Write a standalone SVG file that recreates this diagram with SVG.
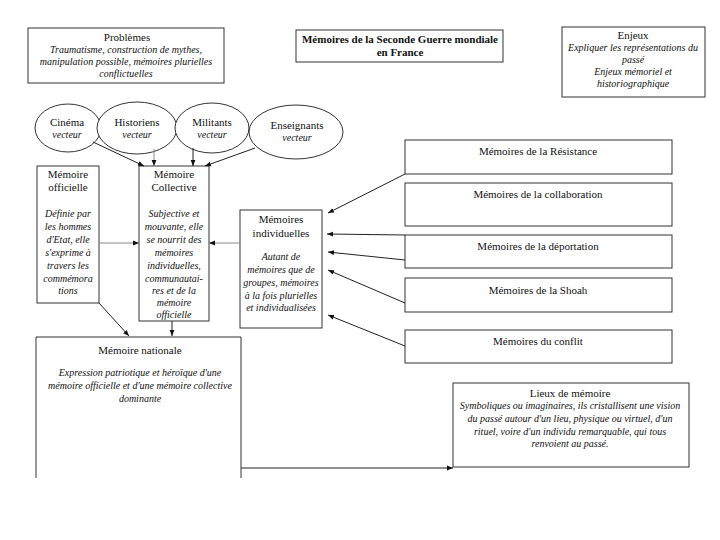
<svg xmlns="http://www.w3.org/2000/svg" width="720" height="540" viewBox="0 0 720 540" font-family="'Liberation Serif', 'Times New Roman', 'DejaVu Serif', serif">
<defs>
<marker id="ah" viewBox="0 0 10 10" refX="10" refY="5" markerWidth="6" markerHeight="6" orient="auto" markerUnits="userSpaceOnUse">
<path d="M0,1 L10,5 L0,9 z" fill="#111"/>
</marker>
<style>
text{font-family:'Liberation Serif','Times New Roman','DejaVu Serif',serif}
.box{fill:#fff;stroke:#333;stroke-width:1}
.t{font-size:11px;fill:#111;text-anchor:middle}
.i{font-size:10px;font-style:italic;fill:#111;text-anchor:middle}
.b{font-weight:bold}
.c{stroke:#222;stroke-width:1;fill:none;marker-end:url(#ah)}
.g{stroke:#888}
</style>
</defs>
<rect width="720" height="540" fill="#fff"/>

<g id="problemes">
<rect class="box" x="28" y="28" width="196" height="55"/>
<text class="t" x="127" y="41">Problèmes</text>
<text class="i" x="126" y="53">Traumatisme, construction de mythes,</text>
<text class="i" x="126" y="65">manipulation possible, mémoires plurielles</text>
<text class="i" x="126" y="77">conflictuelles</text>
</g>

<g id="titre">
<rect class="box" x="296" y="30" width="207" height="32"/>
<text class="t b" x="400" y="43">Mémoires de la Seconde Guerre mondiale</text>
<text class="t b" x="400" y="56">en France</text>
</g>

<g id="enjeux">
<rect class="box" x="562" y="27" width="143" height="70"/>
<text class="t" x="633" y="39">Enjeux</text>
<text class="i" x="633" y="51">Expliquer les représentations du</text>
<text class="i" x="633" y="63">passé</text>
<text class="i" x="633" y="75">Enjeux  mémoriel et</text>
<text class="i" x="633" y="87">historiographique</text>
</g>

<g id="cinema">
<ellipse class="box" cx="68" cy="128" rx="33" ry="24"/>
<text class="t" x="67" y="126">Cinéma</text>
<text class="i" x="67" y="138">vecteur</text>
</g>
<g id="historiens">
<ellipse class="box" cx="137" cy="128" rx="40" ry="26"/>
<text class="t" x="137" y="126">Historiens</text>
<text class="i" x="137" y="138">vecteur</text>
</g>
<g id="militants">
<ellipse class="box" cx="212" cy="128" rx="37" ry="25"/>
<text class="t" x="212" y="126">Militants</text>
<text class="i" x="212" y="138">vecteur</text>
</g>
<g id="enseignants">
<ellipse class="box" cx="296" cy="132" rx="47" ry="27"/>
<text class="t" x="297" y="129">Enseignants</text>
<text class="i" x="297" y="141">vecteur</text>
</g>

<g id="memoire-officielle">
<rect class="box" x="37" y="166" width="62" height="137"/>
<text class="t" x="68" y="178">Mémoire</text>
<text class="t" x="68" y="191">officielle</text>
<text class="i" x="68" y="217">Définie par</text>
<text class="i" x="68" y="230">les hommes</text>
<text class="i" x="68" y="243">d'Etat, elle</text>
<text class="i" x="68" y="256">s'exprime à</text>
<text class="i" x="68" y="269">travers les</text>
<text class="i" x="68" y="282">commémora</text>
<text class="i" x="68" y="294">tions</text>
</g>

<g id="memoire-collective">
<rect class="box" x="139" y="166" width="70" height="155"/>
<text class="t" x="174" y="178">Mémoire</text>
<text class="t" x="174" y="191">Collective</text>
<text class="i" x="174" y="217">Subjective et</text>
<text class="i" x="174" y="230">mouvante, elle</text>
<text class="i" x="174" y="243">se nourrit des</text>
<text class="i" x="174" y="256">mémoires</text>
<text class="i" x="174" y="269">individuelles,</text>
<text class="i" x="174" y="282">communautai-</text>
<text class="i" x="174" y="294">res et  de la</text>
<text class="i" x="174" y="306">mémoire</text>
<text class="i" x="174" y="318">officielle</text>
</g>

<g id="memoires-individuelles">
<rect class="box" x="240" y="210" width="82" height="118"/>
<text class="t" x="281" y="223">Mémoires</text>
<text class="t" x="281" y="237">individuelles</text>
<text class="i" x="281" y="260">Autant de</text>
<text class="i" x="281" y="273">mémoires que de</text>
<text class="i" x="281" y="286">groupes, mémoires</text>
<text class="i" x="281" y="299">à la fois plurielles</text>
<text class="i" x="281" y="311">et individualisées</text>
</g>

<g id="resistance">
<rect class="box" x="405" y="140" width="267" height="34"/>
<text class="t" x="538" y="155">Mémoires de la Résistance</text>
</g>
<g id="collaboration">
<rect class="box" x="405" y="183" width="267" height="43"/>
<text class="t" x="538" y="198">Mémoires de la collaboration</text>
</g>
<g id="deportation">
<rect class="box" x="405" y="235" width="267" height="33"/>
<text class="t" x="538" y="250">Mémoires de la déportation</text>
</g>
<g id="shoah">
<rect class="box" x="405" y="278" width="267" height="34"/>
<text class="t" x="538" y="294">Mémoires de la Shoah</text>
</g>
<g id="conflit">
<rect class="box" x="405" y="330" width="267" height="33"/>
<text class="t" x="538" y="345">Mémoires du conflit</text>
</g>

<g id="memoire-nationale">
<path d="M36,478 V337 H241 V478" fill="#fff" stroke="#333" stroke-width="1"/>
<text class="t" x="140" y="354">Mémoire nationale</text>
<text class="i" x="140" y="376">Expression patriotique et héroïque d'une</text>
<text class="i" x="140" y="389">mémoire officielle et d'une mémoire collective</text>
<text class="i" x="140" y="402">dominante</text>
</g>

<g id="lieux-de-memoire">
<rect class="box" x="453" y="383" width="236" height="84"/>
<text class="t" x="570" y="397">Lieux de mémoire</text>
<text class="i" x="570" y="409">Symboliques ou imaginaires, ils cristallisent une vision</text>
<text class="i" x="570" y="422">du passé autour d'un lieu, physique ou virtuel, d'un</text>
<text class="i" x="570" y="435">rituel, voire d'un individu remarquable, qui tous</text>
<text class="i" x="570" y="447">renvoient au passé.</text>
</g>

<g id="connectors">
<line class="c" x1="93" y1="142" x2="144" y2="166"/>
<line class="c g" x1="154" y1="149" x2="154" y2="166"/>
<line class="c" x1="193" y1="148" x2="193" y2="166"/>
<line class="c" x1="255" y1="148" x2="205" y2="166"/>
<line class="c g" x1="99" y1="243" x2="139" y2="243"/>
<line class="c g" x1="240" y1="243" x2="209" y2="243"/>
<line class="c" x1="405" y1="174" x2="328" y2="213"/>
<line class="c" x1="405" y1="235" x2="327" y2="234" stroke-width="1.4"/>
<line class="c" x1="405" y1="260" x2="328" y2="252"/>
<line class="c" x1="405" y1="303" x2="328" y2="270"/>
<line class="c" x1="405" y1="346" x2="328" y2="315"/>
<line class="c" x1="99" y1="303" x2="129" y2="336"/>
<line class="c" x1="172" y1="321" x2="172" y2="336"/>
<line class="c" x1="241" y1="468" x2="453" y2="468" stroke-width="1.3"/>
</g>
</svg>
